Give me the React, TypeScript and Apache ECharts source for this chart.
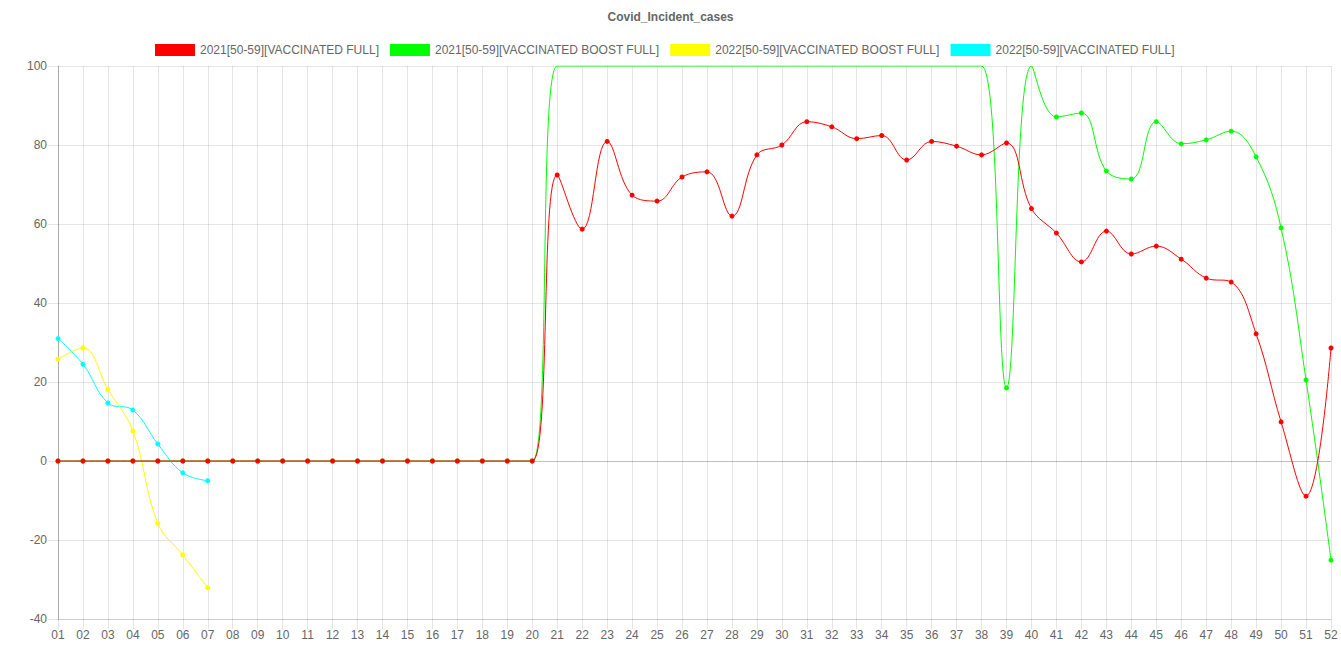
import React, { useEffect, useRef } from "react";
import * as echarts from "echarts";

const weeks = [
  "01","02","03","04","05","06","07","08","09","10","11","12","13","14","15","16","17","18","19","20",
  "21","22","23","24","25","26","27","28","29","30","31","32","33","34","35","36","37","38","39","40",
  "41","42","43","44","45","46","47","48","49","50","51","52",
];

const full2021 = [
  0,0,0,0,0,0,0,0,0,0,0,0,0,0,0,0,0,0,0,0,
  72.4,58.7,80.9,67.3,65.8,71.9,73.2,62.0,77.5,80.0,85.9,84.6,81.6,82.4,76.2,80.9,79.7,77.5,80.5,63.9,
  57.7,50.4,58.2,52.4,54.4,51.1,46.3,45.3,32.2,9.9,-8.9,28.6,
];

// values at the top of the scale (off-chart in the reference, drawn at 100)
const boost2021 = [
  0,0,0,0,0,0,0,0,0,0,0,0,0,0,0,0,0,0,0,0,
  100,100,100,100,100,100,100,100,100,100,100,100,100,100,100,100,100,100,18.5,100,
  87.1,88.1,73.4,71.4,85.9,80.3,81.3,83.5,77.0,59.0,20.5,-25.1,
];

const boost2022 = [25.8, 28.6, 18.1, 7.6, -15.8, -23.8, -32.1];
const full2022 = [31.0, 24.5, 14.7, 12.9, 4.3, -3.0, -5.0];

const seriesNames = [
  "2021[50-59][VACCINATED FULL]",
  "2021[50-59][VACCINATED BOOST FULL]",
  "2022[50-59][VACCINATED BOOST FULL]",
  "2022[50-59][VACCINATED FULL]",
];
const seriesColors = ["#ff0000", "#00ff00", "#ffff00", "#00ffff"];
const seriesData = [full2021, boost2021, boost2022, full2022];

const yMin = -40;
const yMax = 100;
const yStep = 20;

const FONT = "'Liberation Sans', Arial, Helvetica, sans-serif";
const GRID = "rgba(0,0,0,0.1)";
const ZERO = "rgba(0,0,0,0.25)";

export default function App() {
  const ref = useRef<HTMLDivElement>(null);

  useEffect(() => {
    if (!ref.current) return;
    const chart = echarts.init(ref.current, null, { renderer: "svg" });

    const yTickCount = (yMax - yMin) / yStep + 1;
    const ySplitColors: string[] = [];
    for (let i = 0; i < yTickCount; i++) {
      ySplitColors.push(yMin + i * yStep === 0 ? ZERO : GRID);
    }

    chart.setOption({
      animation: false,
      textStyle: { fontFamily: FONT },
      title: {
        text: "Covid_Incident_cases",
        left: "center",
        top: 6,
        textStyle: { fontFamily: FONT, fontSize: 12, fontWeight: "bold", color: "#666" },
      },
      legend: {
        top: 39,
        left: 150,
        icon: "rect",
        itemWidth: 40,
        itemHeight: 12,
        itemGap: 11,
        data: seriesNames,
        textStyle: { fontFamily: FONT, fontSize: 12, color: "#666" },
      },
      grid: { left: 58, right: 10, top: 66, bottom: 51, containLabel: false },
      xAxis: {
        type: "category",
        data: weeks,
        boundaryGap: false,
        axisLine: { show: true, onZero: false, lineStyle: { color: GRID, width: 1 } },
        axisTick: { show: true, interval: 0, length: 10, lineStyle: { color: GRID } },
        axisLabel: { interval: 0, color: "#666", fontSize: 12, fontFamily: FONT, margin: 10 },
        splitLine: { show: true, interval: 0, lineStyle: { color: GRID, width: 1 } },
      },
      yAxis: {
        type: "value",
        min: yMin,
        max: yMax,
        interval: yStep,
        axisLine: { show: true, lineStyle: { color: ZERO, width: 1 } },
        axisTick: { show: true, length: 10, lineStyle: { color: GRID } },
        axisLabel: { color: "#666", fontSize: 12, fontFamily: FONT, margin: 11 },
        splitLine: { show: true, lineStyle: { color: ySplitColors, width: 1 } },
      },
      series: seriesNames.map((name, i) => ({
        name,
        type: "line",
        data: seriesData[i],
        smooth: 0.4,
        clip: true,
        z: i === 0 ? 5 : 4 - i * 0.1,
        symbol: "circle",
        symbolSize: (v: number) => (v >= yMax ? 0 : 5),
        showAllSymbol: true,
        color: seriesColors[i],
        itemStyle: { color: seriesColors[i] },
        lineStyle: { color: seriesColors[i], width: 1 },
      })),
    });

    return () => chart.dispose();
  }, []);

  return (
    <div
      ref={ref}
      style={{ position: "fixed", left: 0, top: 0, width: 1341, height: 670, background: "#fff" }}
    />
  );
}
